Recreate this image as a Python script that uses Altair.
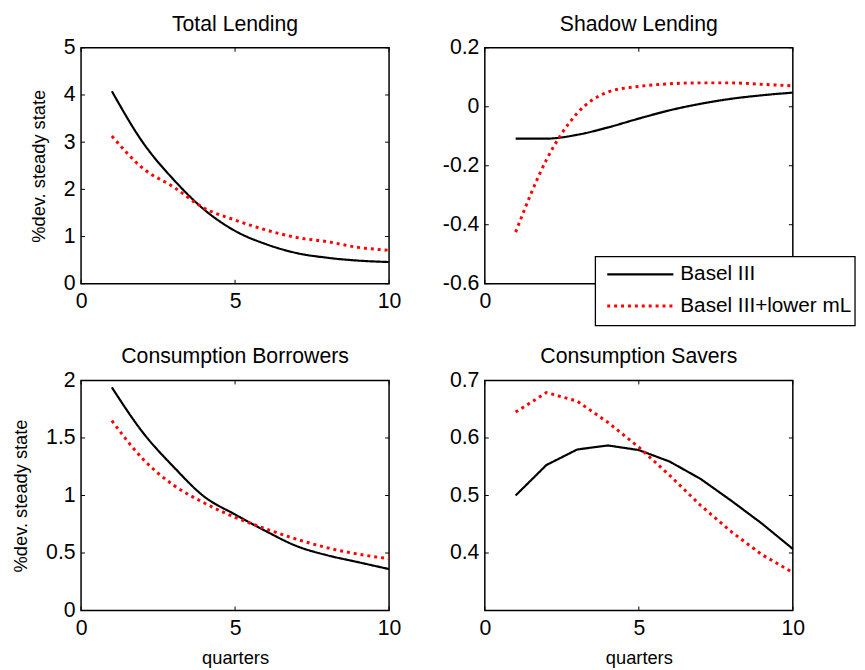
import altair as alt
import pandas as pd

quarters = list(range(1, 11))
series_names = ["Basel III", "Basel III+lower mL"]

total_basel = [4.08, 3.00, 2.21, 1.57, 1.12, 0.84, 0.65, 0.55, 0.49, 0.46]
total_lower = [3.13, 2.45, 2.05, 1.60, 1.35, 1.14, 0.98, 0.89, 0.77, 0.71]

shadow_basel = [-0.108, -0.108, -0.095, -0.070, -0.040, -0.012, 0.010, 0.027, 0.039, 0.048]
shadow_lower = [-0.425, -0.18, -0.022, 0.050, 0.069, 0.078, 0.081, 0.081, 0.076, 0.071]

borrow_basel = [1.94, 1.55, 1.25, 0.99, 0.835, 0.69, 0.56, 0.48, 0.42, 0.36]
borrow_lower = [1.65, 1.32, 1.09, 0.935, 0.81, 0.71, 0.62, 0.545, 0.49, 0.45]

savers_basel = [0.500, 0.553, 0.580, 0.587, 0.579, 0.559, 0.529, 0.491, 0.451, 0.407]
savers_lower = [0.645, 0.679, 0.664, 0.627, 0.584, 0.535, 0.483, 0.437, 0.397, 0.366]

x_ticks = [0, 5, 10]
label_expr = "datum.value < 0 ? '-' + format(-datum.value, '~g') : format(datum.value, '~g')"
# in the top-right panel the legend box hides the 5 and 10 labels
label_expr_hidden = "datum.value == 0 ? '0' : ''"

panels = [
    dict(title="Total Lending", b=total_basel, l=total_lower, dom=[0, 5],
         yt=[0, 1, 2, 3, 4, 5], ytitle="%dev. steady state", xtitle=None, h=239, interp="monotone",
         xexpr=label_expr),
    dict(title="Shadow Lending", b=shadow_basel, l=shadow_lower, dom=[-0.6, 0.2],
         yt=[-0.6, -0.4, -0.2, 0, 0.2], ytitle=None, xtitle=None, h=239, interp="monotone",
         xexpr=label_expr_hidden),
    dict(title="Consumption Borrowers", b=borrow_basel, l=borrow_lower, dom=[0, 2],
         yt=[0, 0.5, 1, 1.5, 2], ytitle="%dev. steady state", xtitle="quarters", h=233, interp="monotone",
         xexpr=label_expr),
    dict(title="Consumption Savers", b=savers_basel, l=savers_lower, dom=[0.3, 0.7],
         yt=[0.4, 0.5, 0.6, 0.7], ytitle=None, xtitle="quarters", h=233, interp="linear",
         xexpr=label_expr),
]

W = 312
FONT = "Liberation Sans"
TL = 4  # inner tick length


def make_panel(p, with_legend=False):
    df = pd.DataFrame({
        "q": quarters * 2,
        "v": p["b"] + p["l"],
        "s": [series_names[0]] * 10 + [series_names[1]] * 10,
    })
    H = p["h"]
    xs = alt.Scale(domain=[0, 10], nice=False)
    ys = alt.Scale(domain=p["dom"], nice=False, zero=False)
    xax = alt.Axis(values=x_ticks, title=p["xtitle"], labelExpr=p["xexpr"])
    yax = alt.Axis(values=p["yt"], title=p["ytitle"], labelExpr=label_expr)
    lines = alt.Chart(df).mark_line(strokeCap="butt", interpolate=p["interp"]).encode(
        x=alt.X("q:Q", scale=xs, axis=xax),
        y=alt.Y("v:Q", scale=ys, axis=yax),
        color=alt.Color("s:N", scale=alt.Scale(domain=series_names, range=["#000000", "#ff0000"]), legend=None),
        strokeDash=alt.StrokeDash("s:N", scale=alt.Scale(domain=series_names, range=[[1, 0], [3, 4]]), legend=None),
        size=alt.Size("s:N", scale=alt.Scale(domain=series_names, range=[2.2, 3]), legend=None),
    )
    xt = pd.DataFrame({"t": x_ticks})
    yt = pd.DataFrame({"t": p["yt"]})
    tb = alt.Chart(xt).mark_rule(color="black", strokeWidth=1).encode(
        x=alt.X("t:Q", scale=xs), y=alt.value(H - TL), y2=alt.value(H))
    tt = alt.Chart(xt).mark_rule(color="black", strokeWidth=1).encode(
        x=alt.X("t:Q", scale=xs), y=alt.value(0), y2=alt.value(TL))
    tl = alt.Chart(yt).mark_rule(color="black", strokeWidth=1).encode(
        y=alt.Y("t:Q", scale=ys), x=alt.value(0), x2=alt.value(TL))
    tr = alt.Chart(yt).mark_rule(color="black", strokeWidth=1).encode(
        y=alt.Y("t:Q", scale=ys), x=alt.value(W - TL), x2=alt.value(W))
    layers = [lines, tb, tt, tl, tr]
    if with_legend:
        one = pd.DataFrame({"s": series_names})
        box = alt.Chart(one.head(1)).mark_rect(fill="white", stroke="black", strokeWidth=1.3, clip=False).encode(
            x=alt.value(112), x2=alt.value(375), y=alt.value(211.5), y2=alt.value(281.5))
        layers.append(box)
        rows = [229.5, 261.5]
        dashes = [[1, 0], [3, 4]]
        cols = ["#000000", "#ff0000"]
        widths = [2.4, 3]
        for i, name in enumerate(series_names):
            d = pd.DataFrame({"s": [name]})
            layers.append(alt.Chart(d).mark_rule(color=cols[i], strokeDash=dashes[i], strokeWidth=widths[i],
                                                 strokeCap="butt", clip=False).encode(
                x=alt.value(124), x2=alt.value(191), y=alt.value(rows[i])))
            layers.append(alt.Chart(d).mark_text(align="left", baseline="middle", font=FONT, fontSize=21,
                                                 color="black", clip=False).encode(
                x=alt.value(198), y=alt.value(rows[i]), text="s:N"))
    return alt.layer(*layers).properties(
        width=W, height=H,
        title=alt.TitleParams(p["title"], fontSize=21.5, font=FONT, fontWeight="normal", offset=2, color="black"),
    )


chart = alt.concat(
    make_panel(panels[0]), make_panel(panels[1], with_legend=True),
    make_panel(panels[2]), make_panel(panels[3]),
    columns=2, spacing=alt.RowColnumber(row=98, column=97), bounds="flush",
).properties(
    padding={"left": 3, "top": 0, "right": 0, "bottom": 0}
).configure_view(
    stroke="black", strokeWidth=1.5
).configure_axis(
    domain=False, ticks=False, grid=False, labelFont=FONT, labelFontSize=21.5, labelColor="black",
    labelPadding=6, labelFlush=False, labelOverlap=False,
    titleFont=FONT, titleFontSize=18.5, titleFontWeight="normal", titleColor="black", titlePadding=15,
).configure_axisX(titlePadding=10, labelPadding=7)

chart.save("out.html", embed_options={"renderer": "svg", "actions": False})
